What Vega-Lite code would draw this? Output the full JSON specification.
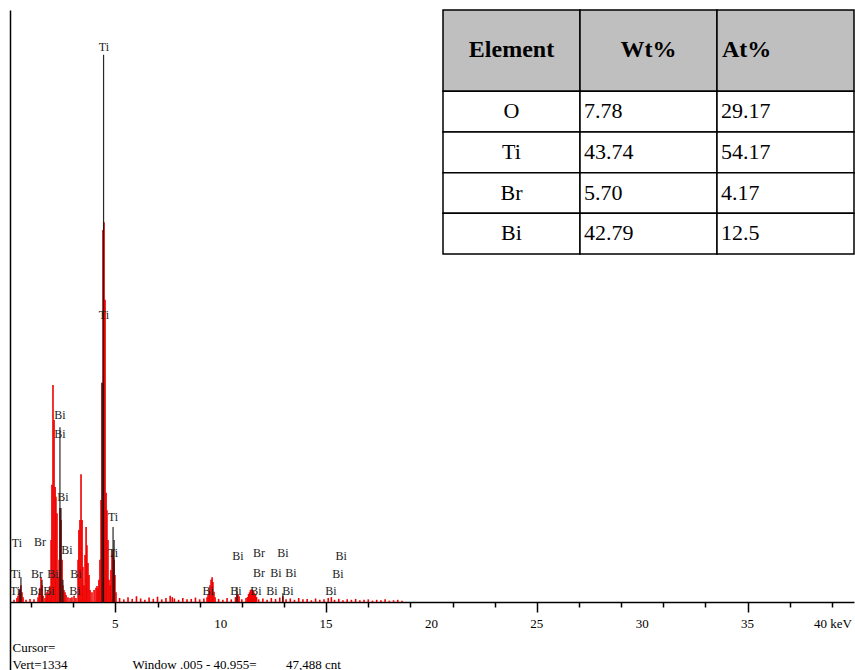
{
  "$schema": "https://vega.github.io/schema/vega-lite/v6.json",
  "width": 844,
  "height": 660,
  "autosize": {"type": "none"},
  "padding": {"left": 10, "top": 10, "right": 1, "bottom": 0},
  "background": "white",
  "config": {"view": {"stroke": null}, "font": "Liberation Serif"},
  "datasets": {
    "red": [
      {"keV": 0.19, "counts": 5}, {"keV": 0.33, "counts": 9}, {"keV": 0.38, "counts": 14}, {"keV": 0.43, "counts": 20},
      {"keV": 0.47, "counts": 27}, {"keV": 0.52, "counts": 38}, {"keV": 0.57, "counts": 22}, {"keV": 0.62, "counts": 11},
      {"keV": 0.76, "counts": 5}, {"keV": 0.95, "counts": 7}, {"keV": 1.14, "counts": 6}, {"keV": 1.33, "counts": 11},
      {"keV": 1.38, "counts": 20}, {"keV": 1.42, "counts": 32}, {"keV": 1.47, "counts": 56}, {"keV": 1.52, "counts": 38},
      {"keV": 1.57, "counts": 14}, {"keV": 1.66, "counts": 9}, {"keV": 1.71, "counts": 16}, {"keV": 1.76, "counts": 22},
      {"keV": 1.80, "counts": 27}, {"keV": 1.85, "counts": 20}, {"keV": 1.90, "counts": 36}, {"keV": 1.95, "counts": 140},
      {"keV": 1.99, "counts": 264}, {"keV": 2.04, "counts": 489}, {"keV": 2.09, "counts": 410}, {"keV": 2.14, "counts": 259},
      {"keV": 2.18, "counts": 237}, {"keV": 2.23, "counts": 200}, {"keV": 2.28, "counts": 56}, {"keV": 2.33, "counts": 95},
      {"keV": 2.37, "counts": 212}, {"keV": 2.42, "counts": 185}, {"keV": 2.47, "counts": 95}, {"keV": 2.51, "counts": 38},
      {"keV": 2.56, "counts": 27}, {"keV": 2.61, "counts": 22}, {"keV": 2.66, "counts": 16}, {"keV": 2.75, "counts": 11},
      {"keV": 2.85, "counts": 9}, {"keV": 2.94, "counts": 11}, {"keV": 3.04, "counts": 14}, {"keV": 3.13, "counts": 9},
      {"keV": 3.23, "counts": 95}, {"keV": 3.27, "counts": 162}, {"keV": 3.32, "counts": 185}, {"keV": 3.37, "counts": 288},
      {"keV": 3.42, "counts": 185}, {"keV": 3.46, "counts": 79}, {"keV": 3.51, "counts": 38}, {"keV": 3.56, "counts": 106},
      {"keV": 3.61, "counts": 169}, {"keV": 3.65, "counts": 128}, {"keV": 3.70, "counts": 88}, {"keV": 3.75, "counts": 61},
      {"keV": 3.80, "counts": 27}, {"keV": 3.89, "counts": 22}, {"keV": 3.99, "counts": 27}, {"keV": 4.08, "counts": 32},
      {"keV": 4.13, "counts": 36}, {"keV": 4.18, "counts": 32}, {"keV": 4.22, "counts": 50}, {"keV": 4.27, "counts": 95},
      {"keV": 4.32, "counts": 230}, {"keV": 4.37, "counts": 494}, {"keV": 4.41, "counts": 838}, {"keV": 4.46, "counts": 856},
      {"keV": 4.51, "counts": 681}, {"keV": 4.56, "counts": 246}, {"keV": 4.60, "counts": 207}, {"keV": 4.65, "counts": 140},
      {"keV": 4.70, "counts": 50}, {"keV": 4.75, "counts": 38}, {"keV": 4.79, "counts": 72}, {"keV": 4.84, "counts": 106},
      {"keV": 4.89, "counts": 117}, {"keV": 4.94, "counts": 95}, {"keV": 4.98, "counts": 61}, {"keV": 5.03, "counts": 22},
      {"keV": 5.2, "counts": 9}, {"keV": 5.4, "counts": 6}, {"keV": 5.6, "counts": 11}, {"keV": 5.8, "counts": 7},
      {"keV": 6.0, "counts": 13}, {"keV": 6.2, "counts": 8}, {"keV": 6.4, "counts": 5}, {"keV": 6.6, "counts": 10},
      {"keV": 6.8, "counts": 7}, {"keV": 7.0, "counts": 12}, {"keV": 7.2, "counts": 6}, {"keV": 7.4, "counts": 9},
      {"keV": 7.6, "counts": 14}, {"keV": 7.7, "counts": 11}, {"keV": 7.8, "counts": 8}, {"keV": 8.0, "counts": 5},
      {"keV": 8.2, "counts": 9}, {"keV": 8.4, "counts": 6}, {"keV": 8.6, "counts": 7}, {"keV": 8.8, "counts": 10},
      {"keV": 9.0, "counts": 6}, {"keV": 9.2, "counts": 8}, {"keV": 9.35, "counts": 11}, {"keV": 9.40, "counts": 16},
      {"keV": 9.45, "counts": 27}, {"keV": 9.49, "counts": 38}, {"keV": 9.54, "counts": 50}, {"keV": 9.59, "counts": 56},
      {"keV": 9.63, "counts": 45}, {"keV": 9.68, "counts": 23}, {"keV": 9.73, "counts": 11}, {"keV": 9.9, "counts": 7},
      {"keV": 10.1, "counts": 5}, {"keV": 10.3, "counts": 9}, {"keV": 10.5, "counts": 6}, {"keV": 10.7, "counts": 11},
      {"keV": 10.77, "counts": 16}, {"keV": 10.82, "counts": 18}, {"keV": 10.87, "counts": 13}, {"keV": 11.0, "counts": 6},
      {"keV": 11.2, "counts": 9}, {"keV": 11.27, "counts": 11}, {"keV": 11.32, "counts": 18}, {"keV": 11.37, "counts": 22},
      {"keV": 11.41, "counts": 27}, {"keV": 11.46, "counts": 29}, {"keV": 11.51, "counts": 27}, {"keV": 11.56, "counts": 25},
      {"keV": 11.60, "counts": 20}, {"keV": 11.65, "counts": 16}, {"keV": 11.70, "counts": 11}, {"keV": 11.8, "counts": 6},
      {"keV": 12.0, "counts": 8}, {"keV": 12.2, "counts": 5}, {"keV": 12.4, "counts": 9}, {"keV": 12.6, "counts": 7},
      {"keV": 12.8, "counts": 10}, {"keV": 12.95, "counts": 13}, {"keV": 13.1, "counts": 6}, {"keV": 13.3, "counts": 8},
      {"keV": 13.5, "counts": 5}, {"keV": 13.7, "counts": 9}, {"keV": 13.9, "counts": 6}, {"keV": 14.1, "counts": 7},
      {"keV": 14.3, "counts": 4}, {"keV": 14.5, "counts": 8}, {"keV": 14.7, "counts": 5}, {"keV": 14.9, "counts": 6},
      {"keV": 15.1, "counts": 9}, {"keV": 15.25, "counts": 11}, {"keV": 15.4, "counts": 5}, {"keV": 15.6, "counts": 7},
      {"keV": 15.8, "counts": 4}, {"keV": 16.0, "counts": 6}, {"keV": 16.2, "counts": 5}, {"keV": 16.4, "counts": 7},
      {"keV": 16.6, "counts": 4}, {"keV": 16.8, "counts": 5}, {"keV": 17.0, "counts": 6}, {"keV": 17.2, "counts": 3},
      {"keV": 17.4, "counts": 5}, {"keV": 17.6, "counts": 4}, {"keV": 17.8, "counts": 6}, {"keV": 18.0, "counts": 3},
      {"keV": 18.2, "counts": 4}, {"keV": 18.4, "counts": 5}, {"keV": 18.6, "counts": 3}
    ],
    "black": [
      {"keV": 0.47, "counts": 30}, {"keV": 0.52, "counts": 56}, {"keV": 1.52, "counts": 50},
      {"keV": 2.37, "counts": 394}, {"keV": 2.42, "counts": 212}, {"keV": 2.51, "counts": 50},
      {"keV": 4.37, "counts": 494}, {"keV": 4.44, "counts": 1233}, {"keV": 4.89, "counts": 169},
      {"keV": 4.94, "counts": 140}, {"keV": 10.77, "counts": 34}, {"keV": 12.95, "counts": 20}
    ],
    "labels": [
      {"keV": 4.46, "counts": 1251, "element": "Ti"}, {"keV": 4.46, "counts": 647, "element": "Ti"},
      {"keV": 2.37, "counts": 421, "element": "Bi"}, {"keV": 2.37, "counts": 379, "element": "Bi"},
      {"keV": 2.51, "counts": 237, "element": "Bi"}, {"keV": 4.89, "counts": 192, "element": "Ti"},
      {"keV": 4.89, "counts": 110, "element": "Ti"}, {"keV": 2.70, "counts": 117, "element": "Bi"},
      {"keV": 0.33, "counts": 133, "element": "Ti"}, {"keV": 1.42, "counts": 135, "element": "Br"},
      {"keV": 0.28, "counts": 63, "element": "Ti"}, {"keV": 1.28, "counts": 63, "element": "Br"},
      {"keV": 2.04, "counts": 63, "element": "Bi"}, {"keV": 3.13, "counts": 63, "element": "Bi"},
      {"keV": 0.24, "counts": 25, "element": "Ti"}, {"keV": 1.23, "counts": 25, "element": "Br"},
      {"keV": 1.85, "counts": 25, "element": "Bi"}, {"keV": 3.08, "counts": 25, "element": "Bi"},
      {"keV": 10.82, "counts": 104, "element": "Bi"}, {"keV": 11.82, "counts": 110, "element": "Br"},
      {"keV": 12.95, "counts": 110, "element": "Bi"}, {"keV": 15.71, "counts": 104, "element": "Bi"},
      {"keV": 11.82, "counts": 65, "element": "Br"}, {"keV": 12.62, "counts": 65, "element": "Bi"},
      {"keV": 13.33, "counts": 65, "element": "Bi"}, {"keV": 15.56, "counts": 63, "element": "Bi"},
      {"keV": 9.40, "counts": 25, "element": "Bi"}, {"keV": 10.72, "counts": 25, "element": "Bi"},
      {"keV": 11.67, "counts": 25, "element": "Bi"}, {"keV": 12.43, "counts": 25, "element": "Bi"},
      {"keV": 13.19, "counts": 25, "element": "Bi"}, {"keV": 15.23, "counts": 25, "element": "Bi"}
    ],
    "ticklabels": [
      {"keV": 5, "tick": "5"}, {"keV": 10, "tick": "10"}, {"keV": 15, "tick": "15"}, {"keV": 20, "tick": "20"},
      {"keV": 25, "tick": "25"}, {"keV": 30, "tick": "30"}, {"keV": 35, "tick": "35"}, {"keV": 40, "tick": "40 keV"}
    ],
    "table": [
      {"row": 0, "top": 0, "bottom": 2, "c1": "Element", "c2": "Wt%", "c3": "At%"},
      {"row": 1, "top": 2, "bottom": 3, "c1": "O", "c2": "7.78", "c3": "29.17"},
      {"row": 2, "top": 3, "bottom": 4, "c1": "Ti", "c2": "43.74", "c3": "54.17"},
      {"row": 3, "top": 4, "bottom": 5, "c1": "Br", "c2": "5.70", "c3": "4.17"},
      {"row": 4, "top": 5, "bottom": 6, "c1": "Bi", "c2": "42.79", "c3": "12.5"}
    ]
  },
  "layer": [
    {
      "layer": [
        {
          "data": {"name": "red"},
          "mark": {"type": "rule", "color": "#f00000", "strokeWidth": 1.6},
          "encoding": {
            "x": {
              "field": "keV", "type": "quantitative",
              "scale": {"domain": [0, 40.05], "nice": false, "zero": false},
              "axis": {
                "values": [1,2,3,4,5,6,7,8,9,10,11,12,13,14,15,16,17,18,19,20,21,22,23,24,25,26,27,28,29,30,31,32,33,34,35,36,37,38,39,40],
                "offset": -68,
                "grid": false,
                "domainColor": "black", "domainWidth": 1.5,
                "tickColor": "black", "tickWidth": 1.5,
                "tickSize": {"condition": {"test": "datum.value % 5 === 0", "value": 10}, "value": 5},
                "labels": false,
                "title": ["Cursor=", "Vert=1334\u00a0\u00a0\u00a0\u00a0\u00a0\u00a0\u00a0\u00a0\u00a0\u00a0\u00a0\u00a0\u00a0\u00a0\u00a0\u00a0\u00a0\u00a0\u00a0\u00a0Window .005 - 40.955=\u00a0\u00a0\u00a0\u00a0\u00a0\u00a0\u00a0\u00a0\u00a047,488 cnt"],
                "titleFont": "Liberation Serif", "titleFontSize": 13, "titleFontWeight": "normal", "titleColor": "black",
                "titleAnchor": "start", "titleAlign": "left", "titleX": 2, "titleY": 49,
                "titleBaseline": "alphabetic", "titleLineHeight": 17
              }
            },
            "y": {
              "field": "counts", "type": "quantitative",
              "scale": {"domain": [-153.2, 1334], "nice": false, "zero": false},
              "axis": {"domain": true, "domainColor": "black", "domainWidth": 1.5, "ticks": false, "labels": false, "grid": false, "title": null}
            },
            "y2": {"datum": 0}
          }
        },
        {
          "data": {"name": "black"},
          "mark": {"type": "rule", "color": "#111111", "strokeWidth": 1.2, "opacity": 0.9},
          "encoding": {
            "x": {"field": "keV", "type": "quantitative"},
            "y": {"field": "counts", "type": "quantitative"},
            "y2": {"datum": 0}
          }
        },
        {
          "data": {"name": "labels"},
          "mark": {"type": "text", "font": "Liberation Serif", "fontSize": 12, "color": "#222222", "baseline": "middle", "align": "center"},
          "encoding": {
            "x": {"field": "keV", "type": "quantitative"},
            "y": {"field": "counts", "type": "quantitative"},
            "text": {"field": "element"}
          }
        },
        {
          "data": {"name": "ticklabels"},
          "transform": [{"filter": "datum.keV < 40"}],
          "mark": {"type": "text", "font": "Liberation Serif", "fontSize": 13, "color": "black", "baseline": "middle", "align": "center"},
          "encoding": {
            "x": {"field": "keV", "type": "quantitative"},
            "y": {"datum": -49.6, "type": "quantitative"},
            "text": {"field": "tick"}
          }
        },
        {
          "data": {"name": "ticklabels"},
          "transform": [{"filter": "datum.keV >= 40"}],
          "mark": {"type": "text", "font": "Liberation Serif", "fontSize": 13, "color": "black", "baseline": "middle", "align": "right", "dx": -1},
          "encoding": {
            "x": {"field": "keV", "type": "quantitative"},
            "y": {"datum": -49.6, "type": "quantitative"},
            "text": {"field": "tick"}
          }
        },
        {
          "mark": {"type": "rule", "color": "black", "strokeWidth": 1.5},
          "encoding": {"y": {"datum": 1334, "type": "quantitative"}}
        },
        {
          "mark": {"type": "rule", "color": "black", "strokeWidth": 1.5},
          "encoding": {
            "x": {"datum": 40.05, "type": "quantitative"},
            "y": {"datum": 0, "type": "quantitative"},
            "y2": {"datum": 1334}
          }
        }
      ]
    },
    {
      "data": {"name": "table"},
      "transform": [{"fold": ["c1", "c2", "c3"], "as": ["col", "text"]}],
      "encoding": {
        "x": {"field": "col", "type": "nominal", "scale": {"domain": ["c1", "c2", "c3"], "range": [433, 844], "paddingInner": 0, "paddingOuter": 0}, "axis": null},
        "y": {"field": "top", "type": "quantitative", "scale": {"domain": [0, 6], "range": [0, 244], "nice": false, "zero": false}, "axis": null}
      },
      "layer": [
        {
          "mark": {"type": "rect", "stroke": "black", "strokeWidth": 1.5},
          "encoding": {
            "y2": {"field": "bottom"},
            "fill": {"condition": {"test": "datum.row === 0", "value": "#bfbfbf"}, "value": "white"}
          }
        },
        {
          "transform": [{"filter": "datum.row === 0 && datum.col !== 'c3'"}],
          "mark": {"type": "text", "font": "Liberation Serif", "fontWeight": "bold", "fontSize": 24, "baseline": "middle", "align": "center", "dy": 40, "color": "black"},
          "encoding": {"text": {"field": "text"}}
        },
        {
          "transform": [{"filter": "datum.row === 0 && datum.col === 'c3'"}],
          "mark": {"type": "text", "font": "Liberation Serif", "fontWeight": "bold", "fontSize": 24, "baseline": "middle", "align": "left", "dx": 5, "dy": 40, "color": "black"},
          "encoding": {"x": {"field": "col", "type": "nominal", "bandPosition": 0}, "text": {"field": "text"}}
        },
        {
          "transform": [{"filter": "datum.row > 0 && datum.col === 'c1'"}],
          "mark": {"type": "text", "font": "Liberation Serif", "fontSize": 22, "baseline": "middle", "align": "center", "dy": 20, "color": "black"},
          "encoding": {"text": {"field": "text"}}
        },
        {
          "transform": [{"filter": "datum.row > 0 && datum.col !== 'c1'"}],
          "mark": {"type": "text", "font": "Liberation Serif", "fontSize": 22, "baseline": "middle", "align": "left", "dx": 4, "dy": 20, "color": "black"},
          "encoding": {"x": {"field": "col", "type": "nominal", "bandPosition": 0}, "text": {"field": "text"}}
        }
      ]
    }
  ],
  "resolve": {"scale": {"x": "independent", "y": "independent"}}
}
